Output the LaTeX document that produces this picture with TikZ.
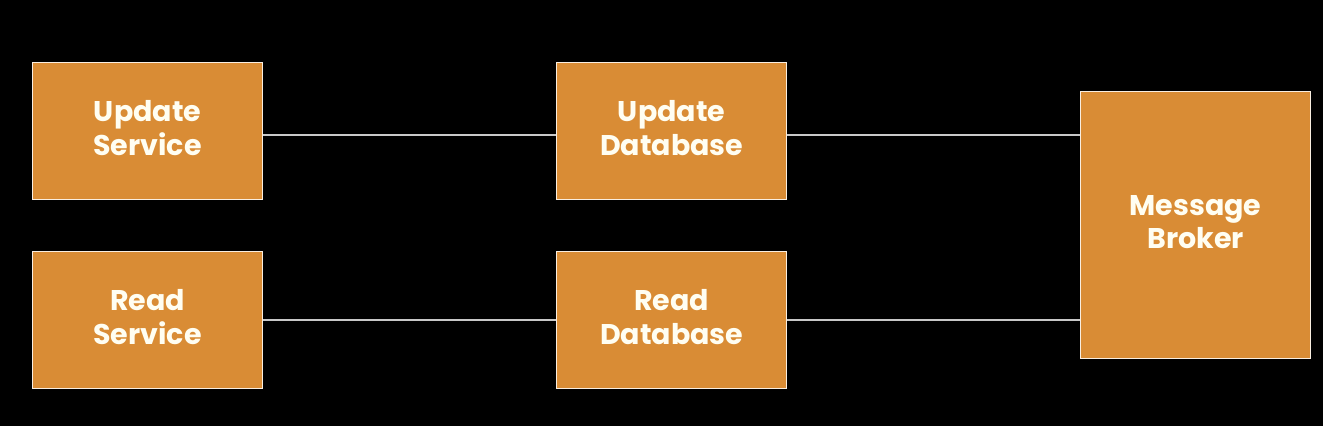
\documentclass[tikz,border=0pt]{standalone}
\usepackage{fontspec}
\setmainfont{Poppins}
\definecolor{boxor}{HTML}{D98C35}
\definecolor{linegray}{HTML}{C8C8C8}
\begin{document}
\begin{tikzpicture}[x=1pt,y=-1pt,
  box/.style={draw=white!85!boxor, line width=1.2pt, fill=boxor, minimum width=230pt, anchor=north west, inner sep=0pt},
  txt/.style={align=center, text=white!95!yellow, font=\fontsize{28.5}{33.5}\selectfont\bfseries, inner sep=0pt},
  link/.style={draw=linegray, line width=2.5pt}]
\fill[black] (0,0) rectangle (1323,426);
\useasboundingbox (0,0) rectangle (1323,426);
\node[box, minimum height=137pt] (us) at (32,62) {};
\node[box, minimum height=137pt] (ud) at (556,62) {};
\node[box, minimum height=137pt] (rs) at (32,251) {};
\node[box, minimum height=137pt] (rd) at (556,251) {};
\node[box, minimum height=267pt] (mb) at (1080,91) {};
\node[txt] (ust) at ([yshift=3pt]us.center) {Update\\Service};
\node[txt] (udt) at ([yshift=3pt]ud.center) {Update\\Database};
\node[txt] (rst) at ([yshift=3pt]rs.center) {Read\\Service};
\node[txt] (rdt) at ([yshift=3pt]rd.center) {Read\\Database};
\node[txt] (mbt) at ([yshift=3pt]mb.center) {Message\\Broker};
\coordinate (t) at (0,135);
\coordinate (b) at (0,320);
\draw[link] (us.east |- t) -- (ud.west |- t);
\draw[link] (ud.east |- t) -- (mb.west |- t);
\draw[link] (rs.east |- b) -- (rd.west |- b);
\draw[link] (rd.east |- b) -- (mb.west |- b);
\end{tikzpicture}
\end{document}
